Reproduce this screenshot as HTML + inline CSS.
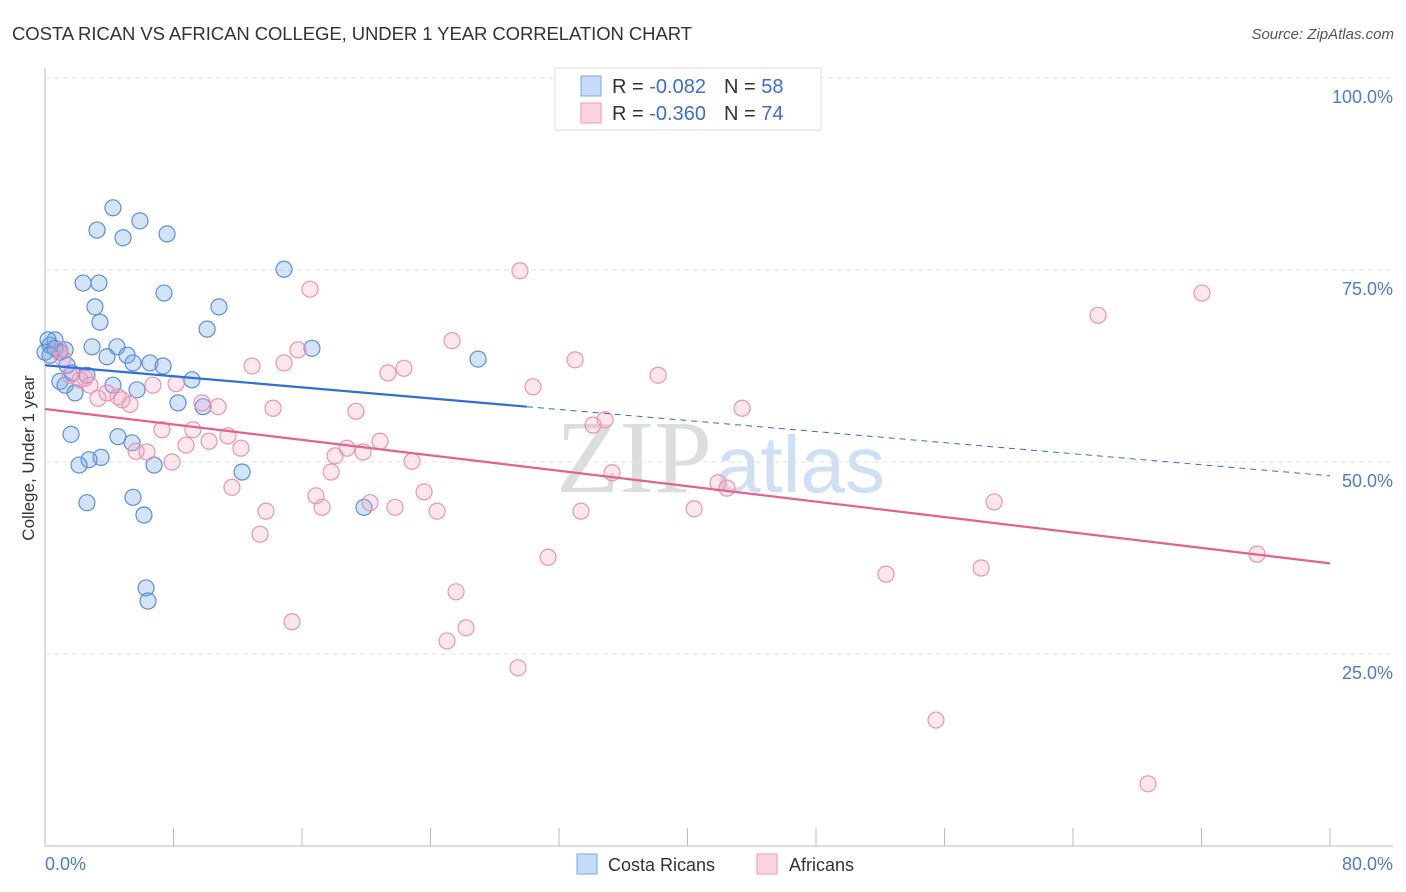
<!DOCTYPE html>
<html><head><meta charset="utf-8"><style>
body{margin:0;background:#fff;font-family:"Liberation Sans",sans-serif;}
svg{display:block}
</style></head><body>
<svg id="c" width="1406" height="892">
<text x="12" y="40" font-size="18.5" fill="#333" textLength="680">COSTA RICAN VS AFRICAN COLLEGE, UNDER 1 YEAR CORRELATION CHART</text>
<text x="1394" y="39" font-size="15" fill="#555" text-anchor="end" font-style="italic">Source: ZipAtlas.com</text>
<text x="712" y="492" font-size="104" fill="#ddd" text-anchor="end" font-family="Liberation Serif">ZIP</text>
<text x="716" y="492" font-size="80" fill="#cfe0f4">atlas</text>
<g id="grid"></g>
<g id="marks"></g>
<text transform="translate(34,458) rotate(-90)" font-size="17" fill="#333" text-anchor="middle">College, Under 1 year</text>
<text x="45" y="870" font-size="18" fill="#4a7bd0">0.0%</text>
<text x="1393" y="870" font-size="18" fill="#4a7bd0" text-anchor="end">80.0%</text>
<g>
<rect x="555" y="68" width="266" height="62" fill="#fff" stroke="#ddd"/>
<rect x="581" y="76" width="20" height="20" fill="#c5dbf6" stroke="#7aa8e6"/>
<rect x="581" y="103" width="20" height="20" fill="#fcd3df" stroke="#ef9ab5"/>
<text x="612" y="93" font-size="20" fill="#333">R = <tspan fill="#3a6fd0">-0.082</tspan><tspan dx="18">N = </tspan><tspan fill="#3a6fd0">58</tspan></text>
<text x="612" y="120" font-size="20" fill="#333">R = <tspan fill="#3a6fd0">-0.360</tspan><tspan dx="18">N = </tspan><tspan fill="#3a6fd0">74</tspan></text>
</g>
<g>
<rect x="577" y="854" width="20" height="20" fill="#c5dbf6" stroke="#7aa8e6"/>
<text x="608" y="871" font-size="18" fill="#333">Costa Ricans</text>
<rect x="757" y="854" width="20" height="20" fill="#fcd3df" stroke="#ef9ab5"/>
<text x="789" y="871" font-size="18" fill="#333">Africans</text>
</g>
</svg>
<script>
const yTicks=[25,50,75,100];
const yTickLabels=["25.0%","50.0%","75.0%","100.0%"];
const xTicks=[0,8,16,24,32,40,48,56,64,72,80];
const blueX=[4.23,5.91,3.24,4.86,7.60,14.88,2.37,3.36,7.41,3.11,10.83,3.42,10.09,16.62,2.93,4.48,3.86,5.11,5.48,6.54,7.35,1.37,0.62,0.31,0.93,1.68,2.61,0.93,1.25,1.87,4.23,5.73,9.15,8.28,9.84,26.96,1.62,4.54,5.42,3.49,2.74,2.12,6.79,12.27,5.48,2.61,6.16,19.86,6.29,6.41,0.19,0,0.62,0.31,1.25];
const blueY=[83.1,81.4,80.2,79.2,79.7,75.1,73.3,73.3,72.0,70.2,70.2,68.2,67.3,64.8,65.0,65.0,63.7,63.9,62.9,62.9,62.5,62.6,65.9,65.2,64.3,61.6,61.3,60.5,60.0,59.0,60.0,59.4,60.7,57.7,57.2,63.4,53.6,53.3,52.5,50.6,50.3,49.6,49.6,48.7,45.4,44.7,43.1,44.1,33.6,31.9,65.9,64.3,64.8,63.9,64.6];
const pinkX=[29.57,16.50,72.03,65.56,25.34,15.75,33.0,12.89,14.88,22.35,21.35,38.17,30.38,6.72,8.16,1.12,2.49,3.86,3.30,5.29,4.54,4.79,9.77,10.77,14.20,19.36,43.40,34.87,34.12,7.28,9.21,11.39,10.21,8.78,12.20,5.67,6.35,20.86,18.80,19.80,18.06,7.91,22.85,17.81,35.30,41.90,42.46,11.64,23.60,16.87,20.23,59.09,17.25,21.79,13.76,24.41,33.37,40.41,13.39,31.32,52.36,58.28,75.46,25.59,15.38,26.21,25.03,29.45,55.47,68.67,0.93,1.56,2.18,2.80];
const pinkY=[74.9,72.5,72.0,69.1,65.8,64.6,63.3,62.5,62.9,62.2,61.6,61.3,59.8,60.0,60.2,63.5,60.9,59.0,58.3,57.5,58.5,58.1,57.7,57.2,57.0,56.6,57.0,55.5,54.8,54.2,54.2,53.4,52.7,52.2,51.8,51.4,51.3,52.7,51.8,51.3,50.8,50.0,50.1,48.7,48.6,47.3,46.6,46.7,46.1,45.6,44.7,44.8,44.1,44.1,43.6,43.6,43.6,43.9,40.6,37.6,35.4,36.2,38.0,33.1,29.2,28.4,26.7,23.2,16.4,8.1,64.6,61.3,60.7,60.0];
const blueTrend=[62.6,48.2];
const blueSolidEnd=30;
const pinkTrend=[56.9,36.8];
const X=v=>45+v/80*1285;
const Y=v=>846-v/100*768;
const NS="http://www.w3.org/2000/svg";
function mk(t,a,p){const e=document.createElementNS(NS,t);for(const k in a)e.setAttribute(k,a[k]);p.appendChild(e);return e;}
const g=document.getElementById('grid'),m=document.getElementById('marks');
mk('line',{x1:45,y1:68,x2:45,y2:846,stroke:'#bbb'},g);
mk('line',{x1:45,y1:846,x2:1393,y2:846,stroke:'#bbb'},g);
yTicks.forEach((t,i)=>{
 const l=mk('line',{x1:45,y1:Y(t),x2:1393,y2:Y(t),stroke:'#e2e2e2','stroke-dasharray':'5,4'},g);
 
 
 const tx=mk('text',{x:1393,y:Y(t)+25,'font-size':18,fill:'#4a7bd0','text-anchor':'end'},g);
 tx.textContent=yTickLabels[i];
 
 
});
xTicks.forEach(t=>{
 const l=mk('line',{x1:X(t),y1:828,x2:X(t),y2:846,stroke:'#bbb'},g);
 
 
});
blueX.forEach((x,i)=>{
 const c=mk('circle',{cx:X(x),cy:Y(blueY[i]),r:8,fill:'rgba(110,165,230,0.3)',stroke:'#5a8fdc','stroke-width':1.2},m);
 
 
});
pinkX.forEach((x,i)=>{
 const c=mk('circle',{cx:X(x),cy:Y(pinkY[i]),r:8,fill:'rgba(245,160,190,0.25)',stroke:'#eb93b0','stroke-width':1.2},m);
 
 
});
const by=x=>blueTrend[0]+(blueTrend[1]-blueTrend[0])*x/80;
let l1=mk('line',{x1:X(0),y1:Y(by(0)),x2:X(blueSolidEnd),y2:Y(by(blueSolidEnd)),stroke:'#2f6fd6','stroke-width':2.2},m);


let l2=mk('line',{x1:X(blueSolidEnd),y1:Y(by(blueSolidEnd)),x2:X(80),y2:Y(by(80)),stroke:'#2f6fd6','stroke-width':1,'stroke-dasharray':'6,5'},m);


let l3=mk('line',{x1:X(0),y1:Y(pinkTrend[0]),x2:X(80),y2:Y(pinkTrend[1]),stroke:'#e3628f','stroke-width':2.2},m);


</script>
</body></html>
